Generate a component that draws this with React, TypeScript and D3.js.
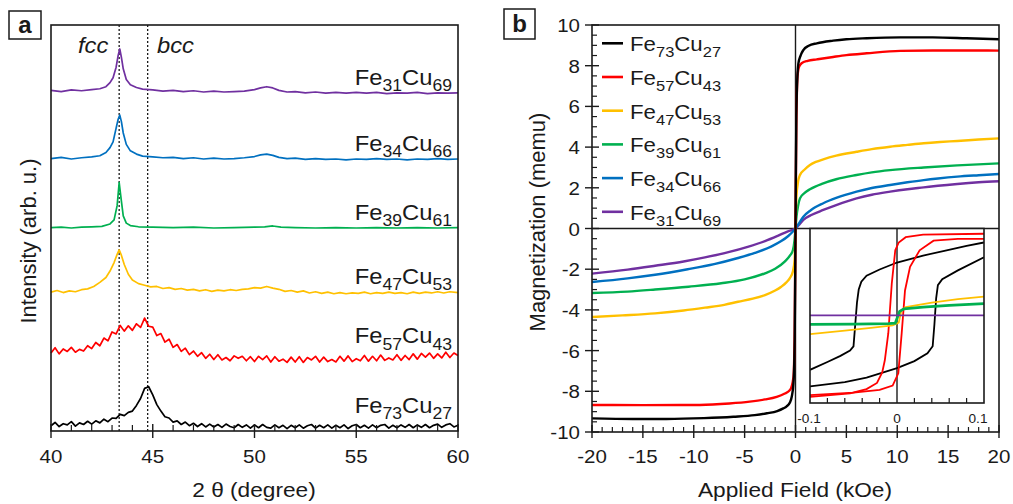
import React from "react";
import * as d3 from "d3";

const FONT = "'Liberation Sans', Arial, Helvetica, sans-serif";
const INK = "#1a1a1a";

// samples, top of legend first
const feContent = [73, 57, 47, 39, 34, 31];
const cuContent = [27, 43, 53, 61, 66, 69];
const sampleColors = ["#000000", "#ff0000", "#ffc000", "#00b050", "#0070c0", "#7030a0"];

// ---- panel a: XRD ----
const xrdTicks = [40, 45, 50, 55, 60];
const fccPeak = 43.35;
const bccPeak = 44.75;
const xrdStart = 40;
const xrdStep = 0.2;

const xrdFe73Cu27 = [
  1.3, 2.1, 1.1, 1.8, 1.5, 2.3, 1.2, 2.0, 1.6, 2.4,
  1.7, 2.5, 2.0, 2.9, 2.3, 3.2, 3.1, 4.1, 3.8, 4.6,
  4.9, 6.3, 8.0, 10.5, 10.9, 8.9, 6.5, 4.9, 3.5, 3.2,
  2.2, 2.5, 1.6, 2.2, 1.3, 1.9, 1.1, 1.8, 1.0, 1.7,
  1.0, 1.6, 0.9, 1.7, 1.1, 0.8, 1.6, 0.9, 1.5, 0.7,
  1.5, 0.8, 1.6, 0.9, 0.7, 1.5, 0.8, 1.4, 0.6, 1.4,
  0.8, 1.5, 0.7, 1.3, 1.6, 0.7, 1.4, 0.8, 1.5, 0.7,
  1.4, 0.8, 1.5, 0.6, 1.3, 1.6, 0.8, 1.4, 0.7, 1.5,
  0.8, 1.4, 1.6, 0.7, 1.4, 0.8, 1.5, 0.9, 1.6, 0.8,
  1.5, 0.9, 1.6, 0.8, 1.4, 1.7, 0.9, 1.5, 1.8, 1.0,
  1.4,
];

const xrdFe57Cu43 = [
  19.2, 20.5, 19.0, 20.2, 19.6, 20.6, 19.4, 20.1, 19.7, 21.0,
  20.3, 21.8, 21.0, 22.9, 22.2, 24.4, 23.9, 26.0, 24.6, 25.9,
  24.8, 26.4, 25.5, 27.8, 25.8, 25.6, 23.5, 24.0, 21.9, 22.6,
  20.6, 21.3, 19.6, 20.4, 18.8, 19.7, 18.4, 19.3, 17.9, 18.9,
  17.6, 18.8, 17.5, 18.1, 17.3, 18.5, 17.9, 18.4, 17.3, 18.3,
  17.1, 18.4, 17.6, 18.5, 17.0, 18.3, 17.2, 17.7, 16.9, 18.2,
  17.0, 18.3, 16.9, 18.1, 17.5, 18.4, 17.0, 18.2, 17.1, 17.6,
  17.0, 18.4, 17.2, 18.5, 17.1, 17.8, 17.3, 18.6, 17.2, 18.4,
  17.3, 18.7, 17.4, 18.0, 17.5, 18.8, 17.4, 18.6, 17.6, 19.0,
  17.7, 19.1, 18.2, 19.2, 17.9, 19.0, 18.0, 19.4, 18.1, 19.2,
  18.6,
];

const xrdFe47Cu53 = [
  [40, 34.2], [40.3, 34.6], [40.6, 34.1], [40.9, 34.5], [41.2, 34.3], [41.5, 34.8],
  [41.8, 35.0], [42.1, 35.6], [42.4, 36.6], [42.7, 37.8], [42.9, 39.4], [43.1, 41.5],
  [43.25, 43.5], [43.35, 44.6], [43.45, 43.4], [43.6, 41.0], [43.8, 38.6], [44.0, 37.2],
  [44.3, 36.3], [44.6, 35.9], [44.9, 35.5], [45.2, 35.6], [45.5, 35.1], [45.8, 35.3],
  [46.1, 34.9], [46.4, 35.1], [46.7, 34.7], [47, 34.9], [47.3, 34.5], [47.6, 34.8],
  [47.9, 34.4], [48.2, 34.7], [48.5, 34.5], [48.8, 34.8], [49.1, 34.6], [49.4, 34.9],
  [49.7, 35.0], [50, 35.3], [50.3, 35.2], [50.6, 35.6], [50.9, 35.2], [51.2, 34.9],
  [51.5, 34.4], [51.8, 34.6], [52.1, 34.2], [52.4, 34.5], [52.7, 34.0], [53, 34.3],
  [53.3, 33.9], [53.6, 34.2], [53.9, 33.8], [54.2, 34.1], [54.5, 33.8], [54.8, 34.0],
  [55.1, 33.9], [55.4, 34.2], [55.7, 33.8], [56, 34.1], [56.3, 33.9], [56.6, 34.2],
  [56.9, 33.9], [57.2, 34.1], [57.5, 33.8], [57.8, 34.2], [58.1, 33.9], [58.4, 34.2],
  [58.7, 34.0], [59, 34.3], [59.3, 34.0], [59.6, 34.3], [60, 34.1],
];

const xrdFe39Cu61 = [
  [40, 50.1], [40.5, 50.2], [41, 50.0], [41.5, 50.2], [42, 50.3], [42.5, 50.4],
  [42.9, 51.0], [43.1, 52.0], [43.25, 55.5], [43.35, 61.2], [43.45, 57.0], [43.55, 53.0],
  [43.7, 51.2], [43.9, 50.6], [44.3, 50.3], [45, 50.2], [46, 50.1], [47, 50.2],
  [48, 50.0], [49, 50.1], [50, 50.2], [50.5, 50.3], [50.9, 50.5], [51.3, 50.2],
  [52, 50.1], [53, 50.0], [54, 50.1], [55, 50.0], [56, 50.1], [57, 50.0],
  [58, 50.1], [59, 50.0], [60, 50.1],
];

const xrdFe34Cu66 = [
  [40, 67.1], [40.5, 67.4], [41, 67.0], [41.5, 67.3], [42, 67.5], [42.4, 67.8],
  [42.7, 68.6], [42.9, 69.8], [43.05, 71.2], [43.2, 74.6], [43.3, 76.8], [43.38, 77.8],
  [43.46, 76.2], [43.55, 73.4], [43.7, 70.6], [43.9, 69.0], [44.2, 68.2], [44.5, 67.7],
  [45, 67.5], [45.5, 67.3], [46, 67.4], [46.5, 67.1], [47, 67.3], [47.5, 67.0],
  [48, 67.2], [48.5, 67.0], [49, 67.1], [49.5, 67.3], [50, 67.6], [50.3, 68.0],
  [50.6, 68.2], [50.9, 67.9], [51.2, 67.4], [51.6, 67.1], [52, 67.2], [52.5, 66.9],
  [53, 67.1], [53.5, 66.9], [54, 67.0], [54.5, 66.8], [55, 67.0], [55.5, 66.9],
  [56, 67.1], [56.5, 66.9], [57, 67.0], [57.5, 66.8], [58, 67.0], [58.5, 66.9],
  [59, 67.1], [59.5, 66.9], [60, 67.0],
];

const xrdFe31Cu69 = [
  [40, 83.9], [40.5, 83.6], [41, 84.0], [41.5, 83.8], [42, 84.1], [42.4, 84.3],
  [42.7, 84.8], [42.9, 85.8], [43.05, 87.0], [43.2, 89.6], [43.3, 92.5], [43.38, 94.1],
  [43.46, 92.0], [43.55, 89.2], [43.7, 86.6], [43.9, 85.3], [44.2, 84.6], [44.5, 84.2],
  [45, 84.0], [45.5, 83.7], [46, 83.9], [46.5, 83.6], [47, 83.8], [47.5, 83.5],
  [48, 83.7], [48.5, 83.5], [49, 83.6], [49.5, 83.7], [50, 84.1], [50.3, 84.5],
  [50.6, 84.8], [50.9, 84.5], [51.2, 83.9], [51.6, 83.5], [52, 83.6], [52.5, 83.3],
  [53, 83.5], [53.5, 83.2], [54, 83.4], [54.5, 83.2], [55, 83.4], [55.5, 83.2],
  [56, 83.4], [56.5, 83.1], [57, 83.3], [57.5, 83.2], [58, 83.4], [58.5, 83.1],
  [59, 83.3], [59.5, 83.2], [60, 83.3],
];

// ---- panel b: M(H) ----
const mhXTicks = [-20, -15, -10, -5, 0, 5, 10, 15, 20];
const mhYTicks = [-10, -8, -6, -4, -2, 0, 2, 4, 6, 8, 10];

const mhFe73Cu27 = [
  [-20, -9.33], [-16, -9.36], [-12.7, -9.36], [-9, -9.32], [-6.1, -9.25], [-4, -9.17],
  [-2.8, -9.08], [-1.8, -8.97], [-1.2, -8.84], [-0.87, -8.74], [-0.55, -8.55], [-0.37, -8.27],
  [-0.2, -7.6], [-0.08, -5.5], [0, 0], [0.08, 5.5], [0.2, 7.6], [0.28, 8.1], [0.5, 8.5],
  [0.77, 8.77], [1.3, 8.98], [2.1, 9.1], [3.7, 9.23], [5, 9.3], [7, 9.35], [10.3, 9.39],
  [13.5, 9.39], [16.8, 9.35], [20, 9.3],
];
const mhFe57Cu43 = [
  [-20, -8.67], [-15, -8.68], [-9.4, -8.67], [-6.5, -8.6], [-4.5, -8.51], [-3, -8.4],
  [-1.85, -8.27], [-1.1, -8.12], [-0.54, -7.94], [-0.2, -7.3], [-0.08, -5.0], [0, 0],
  [0.08, 5.0], [0.2, 7.5], [0.35, 7.95], [0.6, 8.12], [1.2, 8.24], [2.1, 8.31], [3.7, 8.43],
  [5, 8.52], [7, 8.61], [10.3, 8.73], [13.5, 8.75], [16.8, 8.75], [20, 8.74],
];
const mhFe47Cu53 = [
  [-20, -4.35], [-17, -4.27], [-13.8, -4.17], [-11, -4.03], [-8.9, -3.89], [-7, -3.75],
  [-5.65, -3.6], [-4.2, -3.45], [-3, -3.27], [-2, -3.05], [-1.4, -2.86], [-0.9, -2.65],
  [-0.57, -2.45], [-0.25, -2.1], [-0.08, -1.5], [0, 0], [0.08, 1.5], [0.25, 2.3],
  [0.44, 2.63], [0.9, 2.9], [1.42, 3.12], [2.0, 3.27], [2.73, 3.4], [4, 3.58], [6, 3.77],
  [7.5, 3.9], [9.3, 4.02], [11, 4.11], [12.6, 4.19], [14.2, 4.25], [15.9, 4.3], [18, 4.37],
  [20, 4.43],
];
const mhFe39Cu61 = [
  [-20, -3.17], [-16.5, -3.1], [-13.8, -3.0], [-10.5, -2.86], [-7.3, -2.69], [-5, -2.5],
  [-3, -2.2], [-2, -1.98], [-1.06, -1.63], [-0.5, -1.3], [-0.25, -1.06], [-0.1, -0.6],
  [0, 0], [0.1, 0.6], [0.25, 1.1], [0.44, 1.48], [0.9, 1.75], [1.42, 1.93], [2.73, 2.22],
  [4, 2.42], [6, 2.63], [7.5, 2.76], [9.3, 2.87], [12.6, 3.0], [15.9, 3.1], [20, 3.2],
];
const mhFe34Cu66 = [
  [-20, -2.63], [-16.5, -2.45], [-13.8, -2.27], [-10.6, -2.0], [-8, -1.75], [-5.65, -1.45],
  [-4, -1.2], [-2.4, -0.89], [-1.4, -0.62], [-0.74, -0.38], [-0.3, -0.17], [0, 0],
  [0.3, 0.22], [0.77, 0.58], [1.5, 0.9], [2.73, 1.24], [4, 1.5], [6, 1.81], [7.5, 1.99],
  [9.3, 2.14], [11, 2.27], [12.6, 2.38], [14, 2.46], [15.9, 2.55], [18, 2.62], [20, 2.68],
];
const mhFe31Cu69 = [
  [-20, -2.22], [-16.5, -2.02], [-13.8, -1.83], [-11, -1.62], [-8.9, -1.42], [-6.5, -1.15],
  [-4.7, -0.9], [-3, -0.62], [-1.7, -0.35], [-0.8, -0.15], [0, 0], [0.3, 0.15],
  [0.77, 0.42], [1.5, 0.65], [2.73, 0.91], [4, 1.15], [6, 1.48], [7.5, 1.66], [9.3, 1.81],
  [11, 1.93], [12.6, 2.02], [14, 2.1], [15.9, 2.19], [18, 2.27], [20, 2.32],
];

// inset (low field, kOe vs normalised moment)
const insetTicks = [-0.1, 0, 0.1];
const insetFe73Down = [
  [-0.1, -0.62], [-0.08, -0.53], [-0.065, -0.46], [-0.054, -0.4], [-0.05, -0.35], [-0.048, -0.1],
  [-0.046, 0.15], [-0.044, 0.3], [-0.041, 0.39], [-0.035, 0.46], [-0.02, 0.53], [0, 0.61],
  [0.03, 0.69], [0.057, 0.75], [0.08, 0.8], [0.1, 0.84],
];
const insetFe73Up = [
  [-0.1, -0.81], [-0.06, -0.76], [-0.035, -0.71], [0, -0.6], [0.02, -0.52], [0.035, -0.43],
  [0.041, -0.35], [0.043, -0.1], [0.045, 0.2], [0.047, 0.35], [0.052, 0.42], [0.07, 0.52],
  [0.1, 0.67],
];
const insetFe57Down = [
  [-0.1, -0.93], [-0.054, -0.89], [-0.035, -0.84], [-0.023, -0.77], [-0.017, -0.65],
  [-0.014, -0.51], [-0.01, -0.2], [-0.006, 0.37], [-0.002, 0.75], [0.002, 0.84],
  [0.01, 0.9], [0.03, 0.93], [0.1, 0.94],
];
const insetFe57Up = [
  [-0.1, -0.91], [-0.05, -0.88], [-0.02, -0.85], [-0.005, -0.8], [0.0015, -0.66],
  [0.0054, -0.2], [0.0092, 0.29], [0.015, 0.56], [0.026, 0.75], [0.042, 0.86], [0.07, 0.88],
  [0.1, 0.88],
];
const insetFe47Cu53 = [
  [-0.1, -0.21], [-0.06, -0.17], [-0.03, -0.14], [-0.005, -0.11], [0.002, -0.08],
  [0.005, 0.06], [0.01, 0.1], [0.04, 0.15], [0.07, 0.19], [0.1, 0.22],
];
const insetFe39Cu61 = [
  [-0.1, -0.1], [-0.05, -0.095], [-0.01, -0.09], [-0.002, -0.085], [0.003, 0.05],
  [0.008, 0.08], [0.03, 0.1], [0.06, 0.12], [0.1, 0.14],
];
const insetFe31Cu69 = [[-0.1, 0.005], [0.1, 0.005]];

type Pt = number[];

function Txt({ x, y, size, anchor = "start", sx = 1.08, italic = false, bold = false, rotate = 0, children }: any) {
  const tf = rotate ? `translate(${x},${y}) rotate(${rotate})` : `translate(${x},${y}) scale(${sx},1)`;
  return (
    <text
      transform={tf}
      fontSize={size}
      textAnchor={anchor}
      fontFamily={FONT}
      fontStyle={italic ? "italic" : "normal"}
      fontWeight={bold ? "bold" : "normal"}
      fill={INK}
    >
      {children}
    </text>
  );
}

function Formula({ x, y, fe, cu, size, anchor = "start", sx = 1.08 }: any) {
  const sub = size * 0.74;
  const dy = size * 0.28;
  return (
    <Txt x={x} y={y} size={size} anchor={anchor} sx={sx}>
      Fe
      <tspan fontSize={sub} dy={dy}>{fe}</tspan>
      <tspan dy={-dy}>Cu</tspan>
      <tspan fontSize={sub} dy={dy}>{cu}</tspan>
    </Txt>
  );
}

function PanelA() {
  const x = d3.scaleLinear().domain([40, 60]).range([51, 458]);
  const y = d3.scaleLinear().domain([0, 100]).range([431, 25]);
  const line = d3.line<Pt>().x((d) => x(d[0])).y((d) => y(d[1]));
  const grid = (vals: number[]) => vals.map((v, i) => [xrdStart + i * xrdStep, v]);

  const traces = [
    grid(xrdFe73Cu27),
    grid(xrdFe57Cu43),
    xrdFe47Cu53,
    xrdFe39Cu61,
    xrdFe34Cu66,
    xrdFe31Cu69,
  ];
  const labelDy = [12, 12, 9, 8, 8, 8];
  const minor = d3.range(41, 60, 1).filter((v) => v % 5 !== 0);

  return (
    <g>
      {/* panel tag */}
      <rect x={9} y={11} width={32} height={28} fill="none" stroke={INK} strokeWidth={1.5} />
      <Txt x={25} y={33} size={24} anchor="middle" sx={1} bold>a</Txt>

      {/* fcc / bcc reference lines */}
      {[fccPeak, bccPeak].map((p) => (
        <line key={p} x1={x(p)} x2={x(p)} y1={y(100)} y2={y(0)} stroke={INK} strokeWidth={1.3} strokeDasharray="2,2" />
      ))}

      {traces.map((t, i) => (
        <path key={i} d={line(t as Pt[]) || ""} fill="none" stroke={sampleColors[i]} strokeWidth={1.7} strokeLinejoin="round" />
      ))}

      {traces.map((t, i) => (
        <Formula
          key={i}
          x={452}
          y={y(t[t.length - 1][1]) - labelDy[i]}
          fe={feContent[i]}
          cu={cuContent[i]}
          size={22}
          anchor="end"
        />
      ))}

      <Txt x={78} y={53} size={22} italic>fcc</Txt>
      <Txt x={157} y={53} size={22} italic>bcc</Txt>

      <rect x={x(40)} y={y(100)} width={x(60) - x(40)} height={y(0) - y(100)} fill="none" stroke={INK} strokeWidth={1.6} />

      {xrdTicks.map((t) => (
        <g key={t}>
          <line x1={x(t)} x2={x(t)} y1={y(0) - 7} y2={y(0) + 7} stroke={INK} strokeWidth={1.4} />
          <Txt x={x(t)} y={463} size={19} anchor="middle">{t}</Txt>
        </g>
      ))}
      {minor.map((t) => (
        <line key={t} x1={x(t)} x2={x(t)} y1={y(0) - 6} y2={y(0)} stroke={INK} strokeWidth={1.2} />
      ))}

      <Txt x={254} y={497} size={21} anchor="middle">2 θ (degree)</Txt>
      <Txt x={36} y={241} size={22} anchor="middle" rotate={-90}>Intensity (arb. u.)</Txt>
    </g>
  );
}

function PanelB() {
  const x = d3.scaleLinear().domain([-20, 20]).range([592, 999]);
  const y = d3.scaleLinear().domain([-10, 10]).range([432, 25]);
  const line = d3.line<Pt>().x((d) => x(d[0])).y((d) => y(d[1])).curve(d3.curveMonotoneX);

  const curves = [mhFe73Cu27, mhFe57Cu43, mhFe47Cu53, mhFe39Cu61, mhFe34Cu66, mhFe31Cu69];
  const drawOrder = [5, 4, 3, 2, 1, 0];

  // inset
  const ix = d3.scaleLinear().domain([-0.1, 0.1]).range([810, 984]);
  const iy = d3.scaleLinear().domain([-1, 1]).range([403, y(0)]);
  const iline = d3.line<Pt>().x((d) => ix(d[0])).y((d) => iy(d[1]));
  const insetCurves = [
    { d: insetFe73Down, c: sampleColors[0] },
    { d: insetFe73Up, c: sampleColors[0] },
    { d: insetFe57Down, c: sampleColors[1] },
    { d: insetFe57Up, c: sampleColors[1] },
    { d: insetFe47Cu53, c: sampleColors[2] },
    { d: insetFe39Cu61, c: sampleColors[3] },
    { d: insetFe31Cu69, c: sampleColors[5] },
  ];

  const xMinor = d3.range(-19, 20, 1).filter((v) => v % 5 !== 0);
  const yMinor = d3.range(-9.5, 10, 0.5).filter((v) => Math.abs(v % 2) > 0.01);
  const iMinor = d3.range(-0.08, 0.0801, 0.02).filter((v) => Math.abs(v) > 0.001);

  return (
    <g>
      <rect x={504} y={9} width={31} height={30} fill="none" stroke={INK} strokeWidth={1.5} />
      <Txt x={519.5} y={32} size={24} anchor="middle" sx={1} bold>b</Txt>

      {/* zero lines */}
      <line x1={x(0)} x2={x(0)} y1={y(10)} y2={y(-10)} stroke={INK} strokeWidth={1.4} />
      <line x1={x(-20)} x2={x(20)} y1={y(0)} y2={y(0)} stroke={INK} strokeWidth={1.6} />

      {drawOrder.map((i) => (
        <path key={i} d={line(curves[i] as Pt[]) || ""} fill="none" stroke={sampleColors[i]} strokeWidth={2.4} />
      ))}

      {/* inset */}
      <defs>
        <clipPath id="insetClip">
          <rect x={ix(-0.1)} y={iy(1)} width={ix(0.1) - ix(-0.1)} height={iy(-1) - iy(1)} />
        </clipPath>
      </defs>
      <rect x={ix(-0.1)} y={iy(1)} width={ix(0.1) - ix(-0.1)} height={iy(-1) - iy(1)} fill="#fff" />
      <line x1={ix(0)} x2={ix(0)} y1={iy(1)} y2={iy(-1)} stroke={INK} strokeWidth={1.4} />
      <g clipPath="url(#insetClip)">
        {insetCurves.map((c, i) => (
          <path key={i} d={iline(c.d as Pt[]) || ""} fill="none" stroke={c.c} strokeWidth={i === 5 ? 2.8 : 1.8} />
        ))}
      </g>
      <rect x={ix(-0.1)} y={iy(1)} width={ix(0.1) - ix(-0.1)} height={iy(-1) - iy(1)} fill="none" stroke={INK} strokeWidth={1.6} />
      {iMinor.map((t) => (
        <line key={t} x1={ix(t)} x2={ix(t)} y1={iy(-1) - 5} y2={iy(-1)} stroke={INK} strokeWidth={1.2} />
      ))}
      {insetTicks.map((t) => (
        <Txt key={t} x={t === 0 ? ix(t) : t < 0 ? ix(t) - 1 : ix(t) - 6} y={423} size={13} anchor="middle" sx={1.05}>
          {t}
        </Txt>
      ))}

      {/* legend */}
      {feContent.map((fe, i) => {
        const ly = 43.3 + i * 33.7;
        return (
          <g key={fe}>
            <line x1={602} x2={623} y1={ly} y2={ly} stroke={sampleColors[i]} strokeWidth={2.6} />
            <Formula x={630} y={ly + 8} fe={fe} cu={cuContent[i]} size={21} sx={1.06} />
          </g>
        );
      })}

      {/* frame and axes */}
      <rect x={x(-20)} y={y(10)} width={x(20) - x(-20)} height={y(-10) - y(10)} fill="none" stroke={INK} strokeWidth={1.6} />
      {mhXTicks.map((t) => (
        <g key={t}>
          <line x1={x(t)} x2={x(t)} y1={y(-10) - 7} y2={y(-10) + 6} stroke={INK} strokeWidth={1.4} />
          <Txt x={x(t)} y={463} size={19} anchor="middle">{t}</Txt>
        </g>
      ))}
      {xMinor.map((t) => (
        <line key={t} x1={x(t)} x2={x(t)} y1={y(-10) - 5} y2={y(-10)} stroke={INK} strokeWidth={1.2} />
      ))}
      {mhYTicks.map((t) => (
        <g key={t}>
          <line x1={x(-20) - 7} x2={x(-20) + 7} y1={y(t)} y2={y(t)} stroke={INK} strokeWidth={1.4} />
          <Txt x={580} y={y(t) + 7} size={19} anchor="end">{t}</Txt>
        </g>
      ))}
      {yMinor.map((t) => (
        <line key={t} x1={x(-20)} x2={x(-20) + 5} y1={y(t)} y2={y(t)} stroke={INK} strokeWidth={1.2} />
      ))}

      <Txt x={795} y={497} size={21} anchor="middle">Applied Field (kOe)</Txt>
      <Txt x={545} y={222} size={22} anchor="middle" rotate={-90}>Magnetization (memu)</Txt>
    </g>
  );
}

export default function App() {
  return (
    <svg width={1013} height={504} style={{ position: "absolute", left: 0, top: 0, background: "#fff" }}>
      <rect width={1013} height={504} fill="#fff" />
      <PanelA />
      <PanelB />
    </svg>
  );
}
